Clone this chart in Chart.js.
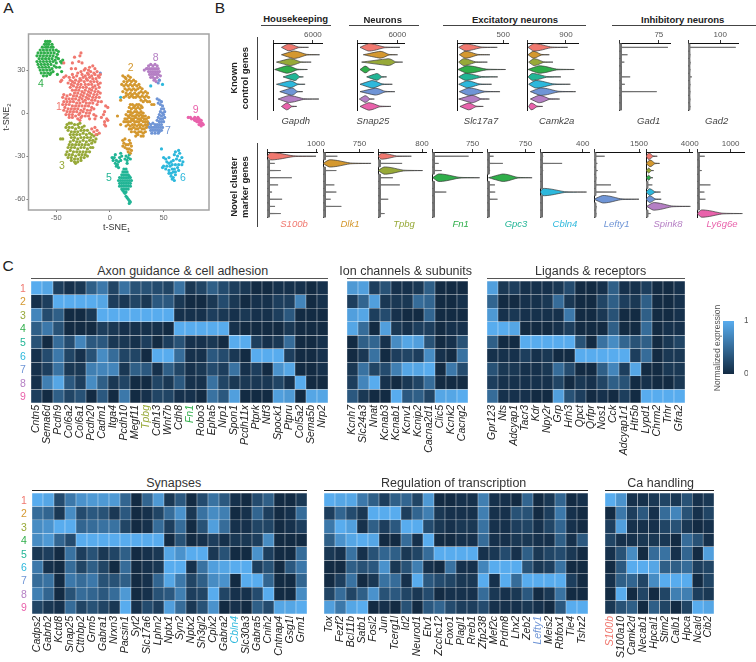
<!DOCTYPE html>
<html>
<head>
<meta charset="utf-8">
<title>Cluster figure</title>
<script src="https://cdn.jsdelivr.net/npm/chart.js@4"></script>
<style>
  html, body { margin: 0; padding: 0; background: #fff; }
  #page { position: relative; width: 756px; height: 662px; overflow: hidden; font-family: "Liberation Sans", Arial, sans-serif; }
  #page canvas { position: absolute; }
  .txt { position: absolute; white-space: nowrap; line-height: 1; }
  .rule { position: absolute; }
</style>
</head>
<body>
<div id="page"></div>
<script>
// ---------- DATA ----------
const clusterNames = ['1', '2', '3', '4', '5', '6', '7', '8', '9'];
const clusterColors = ['#f0786f', '#d4982f', '#97a938', '#2fae4a', '#22b596', '#2db8dc', '#6f95d6', '#b57fc4', '#e962ab'];

// t-SNE points, flat x,y pairs per cluster
const tsne1 = [-27,42,-33,39,-28,40,-29,36,-35,35,-26,35,-43,35,-36,31,-32,31,-45,23,-46,22,-43,25,-41,26,
  -19,32,-16,33,-23,31,-20,30,-14,31,-27,29,-24,30,-21,28,-18,29,-15,28,-12,29,-9,27,-35,27,-30,28,-26,27,-23,26,-20,27,-17,26,-14,27,-11,26,
  -38,25,-34,25,-31,26,-28,24,-25,25,-22,24,-19,25,-16,24,-13,24,-10,25,-37,23,-35,22,-32,23,-29,22,-27,23,-24,22,-21,23,-18,22,-15,22,-12,22,
  -39,21,-36,20,-33,21,-30,20,-27,20,-23,20,-20,20,-17,20,-14,19,-11,20,-9,21,-37,18,-34,19,-31,18,-28,18,-25,18,-22,18,-19,17,-16,18,-13,17,-10,18,
  -35,16,-32,16,-29,16,-26,15,-23,16,-20,15,-17,16,-14,15,-11,15,-33,14,-30,14,-27,13,-24,14,-21,13,-18,14,-15,13,-12,13,-9,14,
  -43,13,-40,12,-37,13,-34,12,-31,12,-28,11,-25,12,-22,11,-19,12,-16,11,-13,11,-10,11,-44,11,-41,10,-38,10,-35,10,-32,10,-29,9,-26,10,-23,9,-20,10,-17,9,-14,9,-11,8,
  -43,8,-40,8,-37,8,-34,8,-31,7,-28,7,-25,8,-22,7,-19,7,-16,7,-12,6,-8,8,-44,6,-41,6,-38,6,-35,5,-32,5,-29,5,-26,5,-23,5,-20,5,-17,4,-4,5,-2,4,
  -42,4,-39,3,-36,3,-33,3,-30,3,-27,2,-24,3,-21,2,-18,2,-15,3,-43,2,-40,1,-37,1,-34,1,-31,1,-28,0,-25,1,-22,0,-19,0,-5,1,
  -41,-1,-38,-1,-35,-1,-32,-2,-29,-1,-26,-2,-23,-2,-20,-2,-15,-1,-13,-2,-6,-1,-38,-3,-35,-3,-30,-4,-27,-3,-19,-4,-14,-4,-8,-3,-3,-4,
  -28,-5,-5,-6,-2,-5,-5,-8,-4,-9,-17,-11,-14,-10,-15,-13,-12,-12,-13,-15,-10,-14];
const tsne2 = [12,26,14,25,17,26,15,24,19,25,13,22,16,22,18,23,20,22,22,23,24,22,11,20,13,19,15,20,17,19,19,20,21,19,23,20,25,19,27,20,14,17,16,16,18,17,20,16,22,17,24,16,26,17,28,18,30,17,
  12,15,15,14,17,13,19,14,21,13,23,14,25,13,27,14,29,15,31,14,33,15,35,14,13,11,15,12,18,11,20,12,22,11,24,11,26,12,28,11,30,12,32,11,34,12,36,11,
  10,9,39,6,41,6,37,8,29,9,31,8,33,9,35,8,
  19,6,21,6,23,5,25,6,27,6,29,5,18,4,20,3,22,4,24,3,26,4,28,3,30,4,
  17,1,19,1,21,0,23,1,25,1,27,0,29,1,31,0,7,-2,15,-1,17,-2,19,-1,21,-2,23,-2,25,-1,27,-2,29,-1,31,-2,33,-2,
  14,-4,16,-4,18,-3,20,-4,22,-4,24,-3,26,-4,28,-4,30,-3,32,-4,34,-4,36,-3,10,-8,13,-6,15,-6,17,-6,19,-6,21,-5,23,-6,25,-6,27,-6,29,-5,31,-6,33,-6,35,-6,
  15,-9,17,-8,19,-9,21,-8,23,-8,25,-9,27,-8,29,-8,31,-9,33,-8,35,-8,18,-11,20,-11,22,-10,24,-11,26,-11,28,-10,30,-11,32,-11,34,-10,
  20,-13,23,-13,25,-14,27,-13,29,-13,31,-14,33,-13,24,-16,26,-15,29,-16,31,-16,18,-19,14,-18,12,-19,13,-21,15,-22,17,-22,19,-21,20,-23,12,-23,14,-24,16,-25,18,-25,20,-26,19,-28,17,-27];
const tsne3 = [-40,-8,-38,-7,-36,-7,-33,-8,-30,-8,-28,-7,-41,-10,-38,-10,-35,-10,-32,-11,-29,-10,-26,-10,-24,-9,-39,-12,-36,-13,-33,-13,-30,-13,-27,-12,-24,-12,-21,-12,
  -37,-15,-34,-15,-31,-15,-28,-15,-25,-14,-22,-15,-19,-14,-17,-15,-46,-18,-44,-18,-36,-17,-33,-17,-30,-18,-27,-17,-24,-17,-21,-17,-18,-17,-15,-16,-12,-15,
  -37,-20,-34,-19,-31,-20,-28,-20,-25,-19,-22,-20,-19,-19,-16,-19,-13,-18,-38,-22,-35,-22,-32,-22,-29,-22,-26,-22,-23,-22,-20,-22,-17,-21,-14,-20,
  -39,-24,-36,-24,-33,-24,-30,-25,-27,-24,-24,-24,-21,-25,-18,-24,-16,-24,-40,-27,-37,-26,-34,-27,-31,-27,-28,-27,-25,-27,-22,-27,-19,-27,-41,-29,-38,-29,-35,-29,-32,-30,-29,-29,-26,-29,-23,-29,-21,-30,
  -39,-31,-36,-31,-33,-32,-30,-32,-27,-31,-24,-31,-36,-33,-33,-34,-30,-34,-27,-33,-32,-35];
const tsne4 = [-60,50,-58,50,-56,50,-61,48,-59,48,-57,48,-54,48,-63,46,-60,46,-58,46,-55,46,-53,46,-65,44,-62,44,-59,44,-56,44,-53,44,-50,44,-48,43,-67,42,-64,42,-61,42,-58,42,-55,42,-52,42,-49,41,
  -68,40,-65,40,-62,40,-59,40,-56,40,-53,40,-50,39,-66,38,-63,38,-60,38,-57,38,-54,38,-51,37,-48,38,-68,36,-65,36,-62,36,-59,36,-56,36,-53,36,-50,35,-44,37,-46,36,-45,35,-67,34,-64,34,-61,34,-58,34,-55,34,-52,33,-47,32,
  -66,32,-63,32,-60,32,-57,32,-54,31,-50,32,-65,30,-62,30,-59,30,-56,30,-53,29,-45,29,-64,28,-61,28,-58,28,-55,28,-49,27,-62,26,-59,26,-56,27];
const tsne5 = [2,-31,3,-33,4,-31,5,-35,6,-33,7,-36,6,-37,8,-34,5,-29,9,-31,10,-28,11,-30,10,-33,8,-38,14,-32,15,-30,16,-33,17,-31,18,-29,19,-32,16,-35,
  13,-39,15,-39,12,-41,14,-41,16,-41,11,-43,13,-43,15,-43,17,-43,18,-44,9,-45,11,-45,13,-45,15,-45,17,-45,19,-45,8,-47,10,-47,12,-47,14,-47,16,-47,18,-47,20,-47,9,-49,11,-49,13,-49,15,-49,17,-49,19,-49,
  9,-51,11,-51,13,-51,15,-51,17,-51,19,-51,11,-53,13,-53,15,-53,17,-53,13,-55,15,-55,12,-54,14,-56,15,-58,16,-59,17,-60,18,-61,19,-62,18,-63];
const tsne6 = [48,-25,50,-31,52,-32,55,-31,61,-27,64,-26,65,-28,60,-29,63,-30,67,-31,53,-34,55,-35,57,-34,59,-33,62,-32,65,-33,68,-34,50,-37,53,-37,56,-37,58,-36,61,-36,64,-36,67,-36,52,-39,55,-40,58,-39,60,-39,63,-38,
  55,-42,57,-42,59,-41,61,-41,64,-40,57,-44,59,-45,61,-43,58,-46,60,-47,49,-38,10,11,38,19,49,20];
const tsne7 = [-9,28,45,21,46,23,44,10,46,9,48,8,45,7,47,6,49,5,48,3,50,3,47,1,49,0,51,1,46,-1,48,-2,50,-1,45,-3,47,-4,49,-4,51,-3,44,-5,46,-6,48,-6,50,-6,36,-7,38,-8,40,-7,42,-8,44,-8,46,-8,48,-8,
  35,-9,37,-10,39,-10,41,-10,43,-10,45,-10,47,-10,49,-10,38,-12,40,-12,42,-12,44,-12,46,-12,48,-12,39,-14,42,-14,45,-14,46,-13];
const tsne8 = [34,31,36,33,38,34,40,33,42,34,44,33,32,30,35,31,37,31,39,31,41,31,43,31,45,31,36,29,38,29,40,29,42,29,44,29,46,29,37,27,39,27,41,27,43,27,45,27,38,25,40,25,42,24,44,25,47,26,41,23,43,22,46,23];
const tsne9 = [73,-3,75,-3,76,-4,78,-4,79,-3,80,-5,81,-4,82,-3,83,-4,84,-5,85,-5,79,-5,81,-6,82,-6,83,-6,84,-6,85,-7,86,-7,83,-8,84,-8,85,-9,86,-8,87,-8];
const tsneAll = [tsne1, tsne2, tsne3, tsne4, tsne5, tsne6, tsne7, tsne8, tsne9];

// violin rows per gene: low, mode, tail, half height
const gapdh = [[1270,2290,5340,.46],[1270,3050,7010,.5],[510,2540,5740,.46],[250,2030,5180,.5],[1520,3300,4570,.5],[510,2540,4830,.46],[1020,2800,4470,.5],[760,2290,6910,.46],[1270,2030,3560,.46]];
const snap25 = [[450,1690,6400,.5],[940,3420,6050,.46],[690,4660,6800,.46],[450,1190,2680,.46],[1440,2930,4410,.46],[450,2180,5260,.5],[450,2680,5650,.46],[350,1190,2580,.46],[450,1690,5060,.5]];
const slc17a7 = [[18,86,435,.46],[25,86,356,.46],[18,68,328,.46],[10,104,525,.5],[18,86,440,.46],[18,104,374,.46],[25,122,465,.5],[18,158,350,.5],[32,122,284,.46]];
const camk2a = [[23,154,938,.5],[23,138,515,.46],[38,154,600,.46],[23,270,1092,.5],[23,115,784,.46],[38,192,1000,.5],[77,308,1123,.5],[77,270,754,.5],[38,92,361,.46]];
const gad1 = [[0,4,92,.5],[0,4,16,.5],[0,4,10,.5],[0,4,5,.5],[0,4,21,.5],[0,4,11,.5],[0,4,71,.5],[0,4,5,.5],[0,4,5,.5]];
const gad2 = [[0,6,148,.5],[0,6,7,.5],[0,6,8,.5],[0,6,7,.5],[0,6,12,.5],[0,6,7,.5],[0,6,7,.5],[0,6,7,.5],[0,6,7,.5]];
const s100b = [[0,70,1000,.5],[0,45,158,.5],[0,45,281,.5],[0,45,507,.5],[0,45,226,.5],[0,45,103,.5],[0,45,308,.5],[0,45,164,.5],[0,45,281,.5]];
const dlk1 = [[0,45,296,.5],[0,130,990,.5],[0,45,275,.5],[0,45,60,.5],[0,45,234,.5],[0,45,275,.5],[0,45,158,.5],[0,45,378,.5],[0,45,60,.5]];
const tpbg = [[0,60,606,.4],[0,38,438,.5],[0,110,810,.5],[0,38,270,.5],[0,38,396,.5],[0,38,45,.5],[0,38,186,.5],[0,38,45,.5],[0,38,120,.5]];
const fn1 = [[0,40,676,.5],[0,40,123,.5],[0,40,178,.5],[12,120,880,.52],[0,40,50,.5],[0,40,264,.5],[0,40,50,.5],[0,40,45,.5],[0,40,45,.5]];
const gpc3 = [[0,40,128,.5],[0,40,308,.5],[0,40,60,.5],[30,300,878,.52],[0,40,154,.5],[0,40,160,.5],[0,40,205,.5],[0,40,45,.5],[0,40,45,.5]];
const cbln4 = [[0,20,30,.5],[0,20,207,.5],[0,20,30,.5],[0,20,25,.5],[0,20,25,.5],[0,28,436,.5],[0,20,25,.5],[0,20,25,.5],[0,20,25,.5]];
const lefty1 = [[0,65,355,.5],[0,65,111,.5],[0,65,122,.5],[0,65,80,.5],[0,65,566,.5],[0,65,744,.5],[0,290,1500,.52],[0,65,89,.5],[0,65,80,.5]];
const spink8 = [[0,240,1030,.45],[0,360,1240,.46],[0,230,700,.34],[0,230,640,.34],[0,180,580,.5],[0,300,1330,.46],[0,300,1390,.46],[60,660,4060,.52],[0,180,420,.5]];
const ly6g6e = [[0,60,230,.5],[0,60,80,.5],[0,60,140,.5],[0,60,70,.5],[0,60,400,.5],[0,60,220,.5],[0,60,250,.5],[0,60,70,.5],[0,130,1350,.5]];

// heatmap columns and rows
const axonGenes = ['Cntn5','Sema6d','Pcdh9','Col6a2','Col6a1','Pcdh20','Cadm1','Itga4','Pcdh10','Megf11','Tpbg','Cdh13','Wnt7b','Cdh8','Fn1','Robo3','Epha5','Nrp1','Spon1','Pcdh11x','Ptprk','Ntf3','Spock1','Ptpru','Col5a2','Sema5b','Nrp2'];
const axonRows = [
  [1,.95,.15,.05,.1,.4,.6,.2,.55,.3,.3,.25,.2,.55,.1,.2,.4,.25,.15,.1,0,0,.05,.05,.05,0,.05],
  [.05,.15,1,1,1,1,.95,.15,.1,.2,.1,.35,.35,.1,0,0,.1,.25,.1,0,.05,.05,.15,.15,.7,0,.05],
  [.7,.25,.4,0,0,.1,1,1,1,1,1,1,1,.05,.05,.05,.15,.1,.05,.1,.05,.05,.15,.35,0,0,0],
  [.4,.6,.3,0,0,0,.15,.1,.05,.05,.05,.05,0,1,1,1,1,1,.05,0,0,0,0,.1,0,0,0],
  [.3,0,.5,.25,.7,.35,.35,.1,.1,.05,.15,0,.15,.3,.05,.05,.1,0,1,1,.15,.05,.1,.5,0,0,.05],
  [.05,.25,.6,.2,.05,.3,.75,.5,.2,.2,0,1,1,.5,.05,.05,.35,.25,.1,0,1,1,1,.15,0,0,.05],
  [.05,.15,.55,.1,.1,.65,.7,.7,.1,.4,.35,.05,.4,.2,.05,.1,.25,.15,.55,.05,.15,0,.8,.95,0,0,.05],
  [.05,.65,.95,.35,.15,.75,.4,.1,.2,0,0,.2,.1,.35,.05,.05,.55,.2,.1,.1,.1,.1,.2,.05,1,0,0],
  [.15,0,.4,.2,.3,0,.35,0,.6,0,.05,.2,.2,.05,.05,0,.55,.35,.9,0,0,0,.9,.85,0,.95,.95]
];
const ionGenes = ['Kcnh7','Slc24a3','Nnat','Kcnab3','Kcnab1','Kcnv1','Kcnip2','Cacna2d1','Clic5','Kcnk2','Cacng2'];
const ionRows = [
  [.85,.9,.15,.3,.05,.05,.1,.4,0,0,0],
  [.15,.45,.9,.1,.1,.1,.5,.45,0,0,.05],
  [.9,.95,.15,.25,.05,0,0,.45,0,0,0],
  [.95,.5,0,.9,.1,.05,.15,.15,0,.05,.05],
  [0,.4,.45,.05,.75,.95,.9,.3,0,.05,.3],
  [0,.1,.55,0,.15,.2,.15,.75,.05,0,.55],
  [.1,.55,.2,.25,.65,.95,.95,1,0,.6,.25],
  [.15,.7,1,.05,0,.1,.2,.5,0,0,0],
  [.35,.1,0,0,1,.35,.4,.2,.95,.95,1]
];
const ligandGenes = ['Gpr123','Nts','Adcyap1','Tacr3','Kdr','Npy2r','Grp','Hrh3','Qpct','Qrfpr','Nos1','Cck','Adcyap1r1','Htr5b','Lypd1','Chrm2','Trhr','Gfra2'];
const ligandRows = [
  [.9,.1,.15,.05,.05,.05,.1,.25,0,0,.05,.4,.05,.05,.15,0,0,.05],
  [.45,0,0,.05,.05,.1,.5,.1,0,0,.2,.4,.15,.1,.4,0,0,.05],
  [.85,.05,.1,.05,.05,.05,.05,.6,0,0,.1,.3,0,0,.4,0,0,.05],
  [1,1,.95,0,0,0,.05,.15,0,0,0,.4,0,0,.5,0,.05,.05],
  [.4,0,0,1,1,1,1,1,.3,0,.55,.75,.45,.3,.4,0,.1,.2],
  [.05,.05,.05,.15,.05,.1,0,0,1,1,1,1,1,.15,.5,0,.1,.1],
  [.3,.1,.1,.05,.05,.1,.5,.25,0,0,.4,.7,.15,.95,0,0,.1,.1],
  [.15,.05,.05,.05,.05,.05,.2,0,.1,.05,.2,.4,.3,0,.05,0,0,.1],
  [.5,.05,.05,.05,0,0,.9,.3,.15,0,.05,0,.15,0,1,1,1,1]
];
const synapseGenes = ['Cadps2','Gabrb2','Kctd8','Snap25','Cttnbp2','Grm5','Gabra1','Nrxn3','Pacsin1','Syt2','Slc17a6','Lphn2','Nptx1','Syn2','Nptx2','Sh3gl2','Cplx2','Gabra2','Cbln4','Slc30a3','Gabra5','Cnih2','Cntnap4','Gsg1l','Grm1'];
const synapseRows = [
  [1,.95,.25,.6,.8,.85,.85,.85,.45,0,.45,.85,.1,.35,0,.25,.55,.35,.05,0,.25,.4,0,0,.1],
  [.5,.45,.1,.75,.25,.35,.3,.1,.35,0,.05,.2,.5,.8,.1,.55,.75,.65,0,.05,.45,.15,0,.05,.5],
  [.75,.8,1,1,.45,.5,.55,.55,.2,0,.05,.5,.15,.5,0,.3,.9,.5,.05,.05,.2,.2,0,.05,.15],
  [.75,.85,.45,.25,1,1,1,1,1,1,1,1,0,.3,0,.05,.15,.05,.1,.1,.15,.75,0,0,0],
  [.1,.15,0,.55,.15,.3,.1,.2,.4,0,.05,.1,.95,.8,1,1,.1,.3,0,0,.8,.15,0,0,.5],
  [.6,.05,0,.5,.2,.4,.2,0,.5,0,.05,.1,1,1,.05,.55,.9,.95,1,1,.15,.3,0,.35,.6],
  [.5,.55,0,.6,.5,.6,.3,.3,.4,0,.05,.45,.95,.6,.2,.4,.75,.8,0,1,1,.45,0,0,.45],
  [.65,.45,0,.3,.5,.45,.35,.5,.85,0,.05,.3,.35,.65,.15,.2,1,.2,.05,.05,.25,1,0,0,.75],
  [.2,.1,.05,.5,.2,.3,.2,.1,1,.05,.25,.15,.9,.5,.1,.3,.8,0,.05,0,.4,.25,.95,.95,1]
];
const regulationGenes = ['Tox','Fezf2','Bcl11b','Satb1','Fosl2','Jun','Tcerg1l','Id2','Neurod1','Etv1','Zcchc12','Foxo1','Plagl1','Rreb1','Zfp238','Mef2c','Prdm8','Lhx2','Zeb2','Lefty1','Meis2','Rbfox1','Tle4','Tshz2'];
const regulationRows = [
  [1,.95,.95,.6,.4,.15,.4,.45,.2,.85,0,0,.05,.05,.65,.05,.05,0,.45,0,.1,.45,0,.05],
  [.15,.45,.25,.1,1,1,1,.15,.45,.65,.1,.05,.05,.05,.65,.05,.05,.3,.3,0,.15,.6,.05,0],
  [.6,1,.9,.05,.4,.15,.35,1,1,.25,.1,.05,.1,.1,.55,.05,.05,.15,.2,.05,.2,.45,.05,0],
  [.4,.8,.95,1,.95,0,0,.5,.05,1,0,0,.05,.05,.5,.05,.05,.1,.1,.05,.05,.4,.05,.35],
  [.1,.05,.55,.05,.3,.45,.4,.1,.2,.5,1,1,1,1,.05,.1,.25,.05,.4,.1,.2,.25,.1,0],
  [0,0,.4,.3,.35,.8,.1,.3,.65,.05,0,.55,.05,.05,.7,1,1,1,.3,.1,.15,.55,0,0],
  [0,.15,.55,0,.1,.55,.5,.05,1,.35,.25,.2,.1,.1,1,.05,1,.5,1,1,1,1,.15,0],
  [.2,.5,.2,.4,.8,.3,.35,.2,.1,.25,0,.05,.05,.05,.5,.1,.05,.1,.35,0,.1,.55,0,0],
  [.9,.6,.95,1,0,.05,0,.3,0,.35,.45,.25,.15,.15,.25,.05,.05,.05,.1,.05,0,.35,1,1]
];
const caGenes = ['S100b','S100a10','Camk2d','Necab1','Hpcal1','Stim2','Calb1','Hpca','Ncald','Cib2'];
const caRows = [
  [1,.8,.05,.05,.1,.2,.1,.3,.05,.1],
  [0,.6,.15,.35,.05,.5,.7,.3,.05,.2],
  [.15,.9,.05,.05,.05,.2,.3,.1,0,.05],
  [.2,.05,.05,.1,.1,.1,0,.5,.3,.05],
  [.05,.3,.75,0,.5,.55,.05,.45,0,.9],
  [0,.35,1,1,.95,.4,.4,.5,.15,.2],
  [.05,.4,.45,.2,.75,1,1,1,0,.2],
  [0,1,0,.2,0,.2,.65,.65,.15,.1],
  [.1,.3,.4,0,.4,.2,0,.2,1,.95]
];

// gene names coloured by their cluster
const markerGeneCluster = { Tpbg: 3, Fn1: 4, Lefty1: 7, Cbln4: 6, S100b: 1 };

// ---------- HELPERS ----------
const page = document.getElementById('page');
const FONT = '"Liberation Sans", Arial, sans-serif';

function addText(text, x, y, size, opts = {}) {
    const el = document.createElement('div');
    el.className = 'txt';
    el.innerHTML = text;
    el.style.left = x + 'px';
    el.style.top = y + 'px';
    el.style.fontSize = size + 'px';
    el.style.color = opts.color || '#222';
    if (opts.bold) el.style.fontWeight = 'bold';
    if (opts.italic) el.style.fontStyle = 'italic';
    el.style.transform = 'translate(-50%,-50%)' + (opts.rotate ? ' rotate(' + opts.rotate + 'deg)' : '');
    page.appendChild(el);
}

function addRule(x, y, w, h, color) {
    const el = document.createElement('div');
    el.className = 'rule';
    el.style.cssText = 'left:' + x + 'px;top:' + y + 'px;width:' + w + 'px;height:' + h + 'px;background:' + color;
    page.appendChild(el);
}

function addCanvas(x, y, w, h) {
    const c = document.createElement('canvas');
    c.width = w;
    c.height = h;
    c.style.left = x + 'px';
    c.style.top = y + 'px';
    c.style.width = w + 'px';
    c.style.height = h + 'px';
    page.appendChild(c);
    return c;
}

function toPairs(flat) {
    const out = [];
    for (let i = 0; i < flat.length; i += 2) out.push({ x: flat[i], y: flat[i + 1] });
    return out;
}

// low to high ramp of the heatmaps
function rampColor(v) {
    const lo = [19, 43, 67], hi = [88, 172, 238];
    const c = lo.map((l, i) => Math.round(l + (hi[i] - l) * v));
    return 'rgb(' + c.join(',') + ')';
}

const framePlugin = {
    id: 'frame',
    afterDraw(chart) {
        const a = chart.chartArea, ctx = chart.ctx;
        ctx.save();
        ctx.strokeStyle = '#a3a3a3';
        ctx.lineWidth = 1.5;
        ctx.strokeRect(a.left, a.top, a.right - a.left, a.bottom - a.top);
        ctx.restore();
    }
};

const baseOptions = {
    responsive: false,
    animation: false,
    events: []
};

// ---------- PANEL A ----------
function drawScatter() {
    const canvas = addCanvas(0, 26, 216, 196);
    new Chart(canvas, {
        type: 'scatter',
        data: {
            datasets: tsneAll.map((flat, i) => ({
                data: toPairs(flat),
                backgroundColor: clusterColors[i],
                borderWidth: 0,
                pointRadius: 1.6
            }))
        },
        options: {
            ...baseOptions,
            layout: { padding: { top: 8, right: 7 } },
            plugins: { legend: { display: false }, tooltip: { enabled: false } },
            scales: {
                x: {
                    min: -75.9, max: 92.3,
                    afterBuildTicks: s => { s.ticks = [-50, 0, 50].map(v => ({ value: v })); },
                    afterFit: s => { s.height = 12; },
                    grid: { drawOnChartArea: false, tickLength: 2, color: '#777' },
                    border: { display: false },
                    ticks: { color: '#666', font: { size: 7.5, family: FONT }, padding: 1, maxRotation: 0 }
                },
                y: {
                    min: -67.6, max: 55.2,
                    afterBuildTicks: s => { s.ticks = [-60, -30, 0, 30].map(v => ({ value: v })); },
                    afterFit: s => { s.width = 28.5; },
                    grid: { drawOnChartArea: false, tickLength: 2, color: '#777' },
                    border: { display: false },
                    ticks: { color: '#666', font: { size: 7.5, family: FONT }, padding: 1 }
                }
            }
        },
        plugins: [framePlugin]
    });
    const nums = [[59, 106], [130.7, 66.7], [62, 165], [41, 83], [109, 177], [183, 177], [168, 130], [155.7, 57], [195.7, 108.7]];
    nums.forEach((p, i) => addText(clusterNames[i], p[0], p[1], 10.5, { color: clusterColors[i] }));
    addText('t-SNE<sub style="font-size:6px">1</sub>', 116.7, 228, 9, { color: '#333' });
    addText('t-SNE<sub style="font-size:6px">2</sub>', 7, 117, 9, { color: '#333', rotate: -90 });
}

// ---------- PANEL B ----------
// outline of one violin, built from the four values read for that cluster
function violinOutline(row, i, isBand) {
    const y = i + 1, low = row[0], mode = row[1], tail = row[2], h = row[3];
    const len = tail - mode;
    let out;
    if (isBand) {
        // near zero rows are a sliver on the axis with a hair line out to the tail
        out = [[0, y - h], [mode, y - h], [mode * 1.05, y - 0.03], [tail, y], [mode * 1.05, y + 0.03], [mode, y + h], [0, y + h]];
    } else {
        const shoulder = mode + len * 0.2, neck = mode + len * 0.5;
        out = [[low, y], [mode, y - h], [shoulder, y - h * 0.8], [neck, y - h * 0.12], [tail, y],
            [neck, y + h * 0.12], [shoulder, y + h * 0.8], [mode, y + h], [low, y]];
    }
    return out.map(p => ({ x: p[0], y: p[1] }));
}

function drawViolin(rows, x0, top, height, tickValue, maxValue, plotWidth) {
    const canvas = addCanvas(x0 - 4, top - 14, plotWidth + 16, height + 14);
    new Chart(canvas, {
        type: 'scatter',
        data: {
            datasets: rows.map((row, i) => {
                const isBand = row[1] / maxValue < 0.05;
                return {
                    data: violinOutline(row, i, isBand),
                    showLine: true,
                    tension: isBand ? 0 : 0.2,
                    fill: 'shape',
                    backgroundColor: isBand ? '#808080' : clusterColors[i],
                    borderColor: isBand ? '#666' : '#3a3a3a',
                    borderWidth: isBand ? 0.8 : 0.7,
                    pointRadius: 0
                };
            })
        },
        options: {
            ...baseOptions,
            layout: { padding: { left: 4, right: 12 } },
            plugins: { legend: { display: false }, tooltip: { enabled: false } },
            scales: {
                x: {
                    position: 'top',
                    min: 0, max: maxValue,
                    afterBuildTicks: s => { s.ticks = [{ value: 0 }, { value: tickValue }]; },
                    afterFit: s => { s.height = 14; },
                    grid: { drawOnChartArea: false, tickLength: 3, color: '#333' },
                    border: { color: '#111', width: 1 },
                    ticks: {
                        color: '#555', padding: 0, maxRotation: 0,
                        font: { size: 8, family: FONT },
                        callback: v => (v === 0 ? '' : String(v))
                    }
                },
                y: {
                    min: 0.41, max: 9.62, reverse: true,
                    afterBuildTicks: s => { s.ticks = []; },
                    afterFit: s => { s.width = 0; },
                    grid: { drawOnChartArea: false, drawTicks: false },
                    border: { color: '#111', width: 1 },
                    ticks: { display: false }
                }
            }
        }
    });
}

function drawViolins() {
    const TOP1 = 43, H1 = 68, TOP2 = 152, H2 = 66;
    // rows, left x, tick value, axis end value, plot width
    drawViolin(gapdh, 273, TOP1, H1, 6000, 7370, 49);
    drawViolin(snap25, 357, TOP1, H1, 6000, 7000, 47);
    drawViolin(slc17a7, 457, TOP1, H1, 500, 551, 51);
    drawViolin(camk2a, 527, TOP1, H1, 900, 1177, 51);
    drawViolin(gad1, 619, TOP1, H1, 75, 96, 51);
    drawViolin(gad2, 688, TOP1, H1, 100, 155, 50);
    drawViolin(s100b, 267, TOP2, H2, 1000, 1020, 50);
    drawViolin(dlk1, 323, TOP2, H2, 750, 1030, 50);
    drawViolin(tpbg, 378, TOP2, H2, 800, 872, 48);
    drawViolin(fn1, 432, TOP2, H2, 750, 924, 50);
    drawViolin(gpc3, 487, TOP2, H2, 750, 915, 47);
    drawViolin(cbln4, 540, TOP2, H2, 400, 459, 49);
    drawViolin(lefty1, 594, TOP2, H2, 1500, 1533, 46);
    drawViolin(spink8, 646, TOP2, H2, 4000, 4209, 46);
    drawViolin(ly6g6e, 697, TOP2, H2, 1000, 1398, 47);

    const headers = [['Housekeeping', 295.7, 19, 261, 70], ['Neurons', 382.7, 20, 349, 70], ['Excitatory neurons', 515, 20, 443, 143], ['Inhibitory neurons', 682.7, 20, 612, 144]];
    headers.forEach(h => {
        addText(h[0], h[1], h[2], 9.5, { bold: true });
        addRule(h[3], 24.5, h[4], 1.2, '#444');
    });
    addRule(257, 37, 1.2, 83, '#444');
    addRule(257, 143, 1.2, 84, '#444');
    addText('Known', 234, 78, 9.5, { bold: true, rotate: -90 });
    addText('control genes', 245, 78, 9.5, { bold: true, rotate: -90 });
    addText('Novel cluster', 234, 187, 9.5, { bold: true, rotate: -90 });
    addText('marker genes', 245, 187, 9.5, { bold: true, rotate: -90 });

    const topNames = [['Gapdh', 295.7], ['Snap25', 373], ['Slc17a7', 481], ['Camk2a', 556.7], ['Gad1', 648.7], ['Gad2', 716.7]];
    topNames.forEach(n => addText(n[0], n[1], 120.7, 9.5, { italic: true, color: '#444' }));
    const markerNames = [['S100b', 294], ['Dlk1', 350], ['Tpbg', 404], ['Fn1', 460.7], ['Gpc3', 516], ['Cbln4', 565], ['Lefty1', 616.7], ['Spink8', 668], ['Ly6g6e', 722]];
    markerNames.forEach((n, i) => addText(n[0], n[1], 224.3, 9.5, { italic: true, color: clusterColors[i] }));
}

// ---------- PANEL C ----------
function drawHeatmap(title, genes, rows, left, right, top, bottom, titleX, showRows) {
    const padLeft = 20, axisHeight = 60;
    const canvas = addCanvas(left - padLeft, top, right - left + padLeft + 10, bottom - top + axisHeight);
    new Chart(canvas, {
        type: 'bar',
        data: {
            labels: genes,
            datasets: rows.map(row => ({
                data: row.map(() => 1),
                backgroundColor: row.map(rampColor),
                borderColor: 'rgba(255,255,255,0.45)',
                borderWidth: 0.5,
                borderSkipped: false,
                barPercentage: 1,
                categoryPercentage: 1
            }))
        },
        options: {
            ...baseOptions,
            layout: { padding: { left: padLeft, right: 10 } },
            plugins: { legend: { display: false }, tooltip: { enabled: false } },
            scales: {
                x: {
                    stacked: true,
                    afterFit: s => { s.height = axisHeight; },
                    grid: { display: false, drawTicks: false },
                    border: { display: false },
                    ticks: {
                        autoSkip: false, minRotation: 90, maxRotation: 90, padding: 2,
                        font: { size: 10.5, style: 'italic', family: FONT },
                        color: ctx => {
                            const name = genes[ctx.index];
                            return markerGeneCluster[name] ? clusterColors[markerGeneCluster[name] - 1] : '#222';
                        }
                    }
                },
                y: {
                    stacked: true,
                    display: false,
                    min: 0, max: 9, reverse: true
                }
            }
        }
    });
    if (showRows) {
        const rowHeight = (bottom - top) / rows.length;
        clusterNames.forEach((name, i) => addText(name, left - 8, top + (i + 0.5) * rowHeight, 10.5, { color: clusterColors[i] }));
    }
    addText(title, titleX, top - 10.5, 12.5, { color: '#333' });
    addRule(left, top - 3.5, right - left, 1.4, top < 400 ? '#555' : '#222');
}

function drawColorbar() {
    const canvas = addCanvas(723, 314, 25, 67);
    new Chart(canvas, {
        type: 'bar',
        data: {
            labels: ['scale'],
            datasets: [{
                data: [1],
                barPercentage: 1,
                categoryPercentage: 1,
                backgroundColor: ctx => {
                    const area = ctx.chart.chartArea;
                    if (!area) return rampColor(1);
                    const g = ctx.chart.ctx.createLinearGradient(0, area.bottom, 0, area.top);
                    g.addColorStop(0, rampColor(0));
                    g.addColorStop(1, rampColor(1));
                    return g;
                }
            }]
        },
        options: {
            ...baseOptions,
            layout: { padding: { top: 6, bottom: 6 } },
            plugins: { legend: { display: false }, tooltip: { enabled: false } },
            scales: {
                x: { display: false },
                y: {
                    position: 'right',
                    min: 0, max: 1,
                    afterBuildTicks: s => { s.ticks = [{ value: 0 }, { value: 1 }]; },
                    afterFit: s => { s.width = 14; },
                    grid: { display: false },
                    border: { display: false },
                    ticks: { color: '#555', padding: 2, font: { size: 8.5, family: FONT } }
                }
            }
        }
    });
    addText('Normalized expression', 717, 348, 8.5, { color: '#555', rotate: -90 });
}

// ---------- INIT ----------
addText('A', 8.5, 7.5, 15.5, { color: '#222' });
addText('B', 220, 7.5, 15.5, { color: '#222' });
addText('C', 8, 265.5, 15.5, { color: '#222' });

drawScatter();
drawViolins();
drawHeatmap('Axon guidance &amp; cell adhesion', axonGenes, axonRows, 31, 328, 281, 403, 182.7, true);
drawHeatmap('Ion channels &amp; subunits', ionGenes, ionRows, 347, 468, 281, 403, 405.7, false);
drawHeatmap('Ligands &amp; receptors', ligandGenes, ligandRows, 487, 685, 281, 403, 590.7, false);
drawHeatmap('Synapses', synapseGenes, synapseRows, 32, 307, 493, 614, 173.7, true);
drawHeatmap('Regulation of transcription', regulationGenes, regulationRows, 324, 588, 493, 614, 453.7, false);
drawHeatmap('Ca handling', caGenes, caRows, 605, 714, 493, 614, 660.7, false);
drawColorbar();
</script>
</body>
</html>
